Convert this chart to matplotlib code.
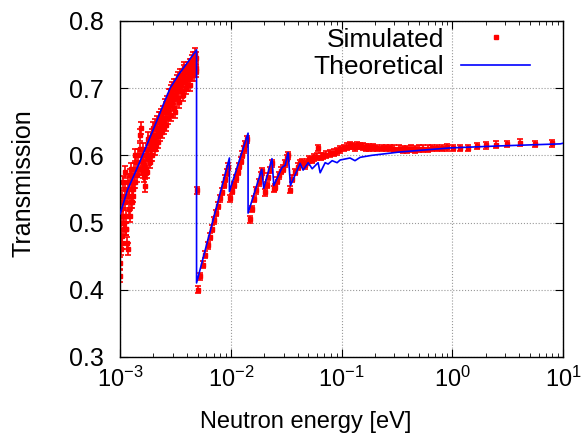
import numpy as np
import matplotlib.pyplot as plt
from matplotlib.lines import Line2D

plt.rcParams['font.family'] = ['Liberation Sans', 'DejaVu Sans']
plt.rcParams['mathtext.fontset'] = 'custom'
plt.rcParams['mathtext.rm'] = 'Liberation Sans'
plt.rcParams['mathtext.it'] = 'Liberation Sans:italic'
plt.rcParams['mathtext.default'] = 'regular'

# theoretical curve (energy in eV, transmission)
theo_e = [1.0e-3, 1.17e-3, 1.40e-3, 1.75e-3, 2.07e-3, 2.45e-3, 2.83e-3, 3.40e-3, 4.10e-3,
          4.90e-3, 4.90e-3, 9.70e-3, 9.70e-3, 1.43e-2, 1.43e-2, 1.90e-2, 1.98e-2, 2.35e-2,
          2.44e-2, 2.90e-2, 3.09e-2, 3.29e-2, 3.45e-2, 4.22e-2, 4.49e-2, 4.99e-2, 5.42e-2,
          6.13e-2, 6.40e-2, 7.10e-2, 7.55e-2, 8.21e-2, 9.10e-2, 9.69e-2, 0.119, 0.132,
          0.147, 0.188, 0.337, 0.955, 2.70, 9.4, 10.0]
theo_t = [0.513, 0.549, 0.578, 0.616, 0.645, 0.675, 0.700, 0.721, 0.739,
          0.757, 0.410, 0.596, 0.546, 0.633, 0.514, 0.579, 0.551, 0.595,
          0.555, 0.582, 0.585, 0.604, 0.555, 0.588, 0.578, 0.589, 0.580,
          0.589, 0.574, 0.589, 0.587, 0.592, 0.589, 0.593, 0.596, 0.592,
          0.597, 0.600, 0.605, 0.611, 0.614, 0.617, 0.618]

# simulated points, first Bragg segment (noisy), energies in meV
sim_e1 = [1.000, 1.020, 1.040, 1.061, 1.082, 1.104, 1.126, 1.149, 1.172, 1.195, 1.219, 1.243,
          1.268, 1.294, 1.319, 1.346, 1.373, 1.400, 1.428, 1.457, 1.486, 1.516, 1.546, 1.577,
          1.608, 1.641, 1.673, 1.707, 1.741, 1.776, 1.811, 1.848, 1.885, 1.922, 1.961, 2.000,
          2.040, 2.081, 2.122, 2.165, 2.208, 2.252, 2.297, 2.343, 2.390, 2.438, 2.487, 2.536,
          2.587, 2.639, 2.692, 2.745, 2.800, 2.856, 2.913, 2.972, 3.031, 3.092, 3.154, 3.217,
          3.281, 3.347, 3.414, 3.482, 3.552, 3.623, 3.695, 3.769, 3.845, 3.922, 4.000, 4.080,
          4.162, 4.245, 4.330, 4.416, 4.505, 4.595, 4.687, 4.780, 4.876,
          1.005, 1.010, 1.015, 1.030, 1.050, 1.070, 1.090, 1.115, 1.140, 1.160, 1.185, 1.210,
          1.230, 1.260, 1.300, 1.360, 1.440, 1.500, 1.560, 1.620, 1.700, 1.800, 1.900, 2.020,
          2.150, 2.280, 2.450, 2.620, 2.800, 3.000, 3.250, 3.500, 3.800, 4.100, 4.400, 4.700,
          1.600, 1.650, 1.750, 1.850, 1.950, 2.050, 2.100, 2.200, 2.300, 2.400, 2.500, 2.600,
          2.700, 2.900, 3.050, 3.100, 3.300, 3.400, 3.600, 3.700, 3.900, 4.050, 4.200, 4.300,
          4.500, 4.600, 4.800, 4.850, 1.025, 1.055, 1.100, 1.130, 1.200, 1.250, 1.280, 1.330]
sim_t1 = [0.440, 0.500, 0.470, 0.530, 0.490, 0.550, 0.510, 0.470, 0.560, 0.520, 0.570, 0.530,
          0.550, 0.570, 0.540, 0.580, 0.560, 0.590, 0.570, 0.600, 0.580, 0.630, 0.640, 0.600,
          0.590, 0.570, 0.555, 0.580, 0.600, 0.610, 0.595, 0.620, 0.600, 0.630, 0.615, 0.640,
          0.620, 0.645, 0.630, 0.650, 0.635, 0.655, 0.640, 0.660, 0.645, 0.665, 0.650, 0.675,
          0.655, 0.680, 0.665, 0.690, 0.675, 0.695, 0.680, 0.700, 0.685, 0.705, 0.690, 0.705,
          0.695, 0.715, 0.700, 0.720, 0.705, 0.720, 0.710, 0.730, 0.715, 0.725, 0.715, 0.730,
          0.720, 0.735, 0.725, 0.740, 0.730, 0.745, 0.735, 0.750, 0.745,
          0.420, 0.520, 0.460, 0.540, 0.480, 0.560, 0.500, 0.575, 0.490, 0.540, 0.460, 0.550,
          0.510, 0.580, 0.550, 0.600, 0.580, 0.610, 0.580, 0.610, 0.600, 0.625, 0.615, 0.630,
          0.640, 0.655, 0.655, 0.670, 0.690, 0.690, 0.710, 0.710, 0.725, 0.725, 0.735, 0.745,
          0.575, 0.585, 0.575, 0.590, 0.600, 0.610, 0.615, 0.620, 0.630, 0.635, 0.640, 0.645,
          0.655, 0.660, 0.670, 0.665, 0.685, 0.680, 0.695, 0.690, 0.700, 0.705, 0.715, 0.705,
          0.720, 0.720, 0.725, 0.730, 0.480, 0.510, 0.530, 0.490, 0.540, 0.560, 0.530, 0.560]

# simulated points above the first edge
sim_e2 = [4.90e-3, 5.0e-3, 5.3e-3, 5.6e-3, 5.9e-3, 6.2e-3, 6.5e-3, 6.8e-3, 7.1e-3, 7.4e-3,
          7.7e-3, 8.0e-3, 8.3e-3, 8.6e-3, 8.9e-3, 9.2e-3, 9.5e-3,
          9.9e-3, 1.03e-2, 1.07e-2, 1.11e-2, 1.15e-2, 1.19e-2, 1.23e-2, 1.27e-2, 1.31e-2,
          1.35e-2, 1.39e-2,
          1.48e-2, 1.55e-2, 1.62e-2, 1.70e-2, 1.78e-2, 1.86e-2, 1.93e-2, 2.03e-2, 2.10e-2,
          2.18e-2, 2.26e-2, 2.34e-2, 2.45e-2, 2.50e-2, 2.60e-2, 2.72e-2, 2.85e-2, 2.95e-2,
          3.05e-2, 3.18e-2, 3.28e-2, 3.43e-2, 3.60e-2, 3.80e-2, 4.00e-2, 4.20e-2, 4.40e-2,
          4.65e-2, 4.88e-2, 5.10e-2, 5.38e-2, 5.65e-2, 5.97e-2, 6.14e-2, 6.45e-2, 6.81e-2,
          7.30e-2, 7.87e-2, 8.45e-2, 9.06e-2, 9.69e-2, 0.104, 0.111, 0.119, 0.125, 0.132,
          0.137, 0.147, 0.155, 0.165, 0.178, 0.192, 0.21, 0.23, 0.25, 0.274, 0.30, 0.33,
          0.36, 0.388, 0.42, 0.46, 0.50, 0.545, 0.60, 0.66, 0.724, 0.80, 0.891, 1.02, 1.17,
          1.39, 1.66, 2.00, 2.47, 3.10, 4.09, 5.59, 8.00]
sim_t2 = [0.548, 0.400, 0.420, 0.437, 0.452, 0.466, 0.479, 0.491, 0.503, 0.514,
          0.525, 0.536, 0.546, 0.556, 0.565, 0.574, 0.583,
          0.536, 0.547, 0.556, 0.566, 0.575, 0.584, 0.592, 0.601, 0.609,
          0.617, 0.624,
          0.505, 0.520, 0.535, 0.548, 0.560, 0.570, 0.576, 0.545, 0.556,
          0.568, 0.578, 0.588, 0.550, 0.553, 0.562, 0.570, 0.577, 0.580,
          0.588, 0.596, 0.600, 0.549, 0.565, 0.575, 0.583, 0.588, 0.590,
          0.585, 0.590, 0.594, 0.593, 0.597, 0.598, 0.611, 0.598, 0.599,
          0.601, 0.603, 0.604, 0.606, 0.609, 0.611, 0.613, 0.615, 0.614, 0.612,
          0.615, 0.614, 0.613, 0.612, 0.612, 0.612, 0.611, 0.611, 0.611, 0.611, 0.610, 0.610,
          0.609, 0.609, 0.610, 0.609, 0.610, 0.610, 0.610, 0.611, 0.611, 0.611, 0.612, 0.611, 0.611,
          0.611, 0.614, 0.615, 0.616, 0.617, 0.619, 0.617, 0.618]

fig = plt.figure(figsize=(5.83, 4.45), dpi=100)
ax = fig.add_axes([0.206, 0.198, 0.760, 0.755])

red = '#ff0000'
blue = '#0000ff'

ax.errorbar(np.array(sim_e1) * 1e-3, sim_t1, yerr=0.009, fmt='s', color=red,
            markersize=3, elinewidth=1.2, capsize=2, capthick=1.2, zorder=2)
ax.errorbar(sim_e2, sim_t2, yerr=0.005, fmt='s', color=red,
            markersize=3, elinewidth=1.2, capsize=2, capthick=1.2, zorder=2)
ax.plot(theo_e, theo_t, color=blue, linewidth=1.2, zorder=3)

ax.set_xscale('log')
ax.set_xlim(1e-3, 10)
ax.set_ylim(0.3, 0.8)
ax.set_yticks([0.3, 0.4, 0.5, 0.6, 0.7, 0.8])
ax.grid(True, which='major', linestyle=':', color='#999999', linewidth=0.8)
ax.set_axisbelow(True)

ax.tick_params(which='both', direction='in', top=True, right=True)
ax.tick_params(which='major', length=6, width=0.8)
ax.tick_params(which='minor', length=3, width=0.6)
ax.tick_params(axis='y', pad=12, labelsize=18)
ax.tick_params(axis='x', pad=7, labelsize=17)
for s in ax.spines.values():
    s.set_linewidth(1.0)

ax.set_xlabel('Neutron energy [eV]', fontsize=17, va='top')
ax.xaxis.set_label_coords(0.419, -0.16)
ax.set_ylabel('Transmission', fontsize=18)
ax.yaxis.set_label_coords(-0.19, 0.518)

handles = [Line2D([], [], color=red, marker='s', markersize=2.5, linestyle='none'),
           Line2D([], [], color=blue, linewidth=1.2)]
ax.legend(handles, ['Simulated', 'Theoretical'], loc='upper right',
          bbox_to_anchor=(530 / 583, 0.938), bbox_transform=fig.transFigure,
          frameon=False, markerfirst=False, fontsize=19, handlelength=2.6,
          labelspacing=0.12, borderpad=0.0, borderaxespad=0.0, handletextpad=0.65)

fig.savefig('out.png', dpi=100)
